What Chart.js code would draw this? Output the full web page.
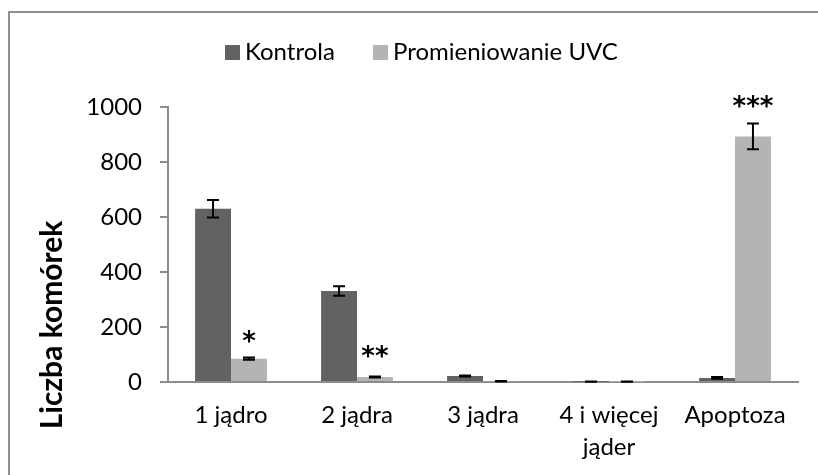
<!DOCTYPE html>
<html>
<head>
<meta charset="utf-8">
<script src="https://cdn.jsdelivr.net/npm/chart.js@4.4.0/dist/chart.umd.min.js"></script>
<style>
  body { margin: 0; background: #fff; }
  #frame { position: absolute; left: 8px; top: 11px; width: 830px; height: 480px;
           border-left: 2px solid #8f8f8f; border-top: 2px solid #8f8f8f; }
  #wrap { position: absolute; left: 0; top: 0; width: 818px; height: 475px; }
</style>
</head>
<body>
<div id="frame"></div>
<div id="wrap"><canvas id="chart" width="818" height="475"></canvas></div>
<script>
// ── Dane ────────────────────────────────────────────────────
const categories = ['1 jądro', '2 jądra', '3 jądra', ['4 i więcej', 'jąder'], 'Apoptoza'];
const kontrola    = [630, 331, 22, 1, 15];
const kontrolaErr = [32, 17, 2, 0.5, 3];
const uvc         = [85, 18, 3, 1, 893];
const uvcErr      = [4, 2, 1, 0.5, 47];
const signif      = ['*', '**', '', '', '***'];
const signifGap   = [8, 12, 0, 0, 9];
const yTicks      = [0, 200, 400, 600, 800, 1000];

const FONT = 'Lato, "Open Sans", sans-serif';
const C_KONTROLA = '#626262';
const C_UVC      = '#b4b4b4';
const AXIS       = '#8c8c8c';

// ── Słupki błędów + gwiazdki ────────────────────────────────
const errorBars = {
    id: 'errorBars',
    afterDatasetsDraw(chart) {
        const { ctx, scales: { y } } = chart;
        const errs = [kontrolaErr, uvcErr];
        ctx.save();
        ctx.strokeStyle = '#000';
        ctx.lineWidth = 2;
        chart.data.datasets.forEach((ds, di) => {
            chart.getDatasetMeta(di).data.forEach((bar, i) => {
                const v = ds.data[i], e = errs[di][i];
                const top = y.getPixelForValue(v + e);
                const bot = y.getPixelForValue(v - e);
                ctx.beginPath();
                ctx.moveTo(bar.x, top); ctx.lineTo(bar.x, bot);
                ctx.moveTo(bar.x - 6, top); ctx.lineTo(bar.x + 6, top);
                ctx.moveTo(bar.x - 6, bot); ctx.lineTo(bar.x + 6, bot);
                ctx.stroke();
                if (di === 1 && signif[i]) {
                    ctx.fillStyle = '#000';
                    ctx.font = 'bold 26px "DejaVu Sans", sans-serif';
                    ctx.textAlign = 'center';
                    ctx.textBaseline = 'alphabetic';
                    ctx.fillText(signif[i], bar.x, top - signifGap[i]);
                }
            });
        });
        ctx.restore();
    }
};

// ── Legenda i tytuł osi Y ───────────────────────────────────
const extras = {
    id: 'extras',
    afterDraw(chart) {
        const ctx = chart.ctx;
        ctx.save();
        ctx.font = '24px ' + FONT;
        ctx.textBaseline = 'middle';
        ctx.textAlign = 'left';
        const items = [[C_KONTROLA, 'Kontrola', 225], [C_UVC, 'Promieniowanie UVC', 373]];
        items.forEach(([c, t, x]) => {
            ctx.fillStyle = c;
            ctx.fillRect(x, 45, 15, 15);
            ctx.fillStyle = '#000';
            ctx.fillText(t, x + 20, 52);
        });
        ctx.translate(52, 325);
        ctx.rotate(-Math.PI / 2);
        ctx.font = 'bold 30px ' + FONT;
        ctx.textAlign = 'center';
        ctx.fillText('Liczba komórek', 0, 0);
        ctx.restore();
    }
};

new Chart(document.getElementById('chart'), {
    type: 'bar',
    data: {
        labels: categories,
        datasets: [
            { label: 'Kontrola', data: kontrola, backgroundColor: C_KONTROLA },
            { label: 'Promieniowanie UVC', data: uvc, backgroundColor: C_UVC },
        ],
    },
    options: {
        responsive: false,
        animation: false,
        layout: { padding: { left: 78, right: 20, top: 107, bottom: 0 } },
        datasets: { bar: { categoryPercentage: 0.57, barPercentage: 1.0 } },
        plugins: { legend: { display: false }, tooltip: { enabled: false } },
        scales: {
            x: {
                grid: { display: false },
                border: { color: AXIS, width: 2 },
                ticks: { color: '#000', font: { family: FONT, size: 24, lineHeight: 1.3 }, padding: 10, maxRotation: 0 },
                afterFit: s => { s.height = 93; },
            },
            y: {
                min: 0, max: 1000,
                afterBuildTicks: s => { s.ticks = yTicks.map(v => ({ value: v })); },
                grid: { drawOnChartArea: false, drawTicks: true, tickLength: 8, color: AXIS, lineWidth: 2 },
                border: { color: AXIS, width: 2 },
                ticks: { color: '#000', font: { family: FONT, size: 24 }, padding: 18, callback: v => String(v) },
                afterFit: s => { s.width = 90; },
            },
        },
    },
    plugins: [errorBars, extras],
});
</script>
</body>
</html>
